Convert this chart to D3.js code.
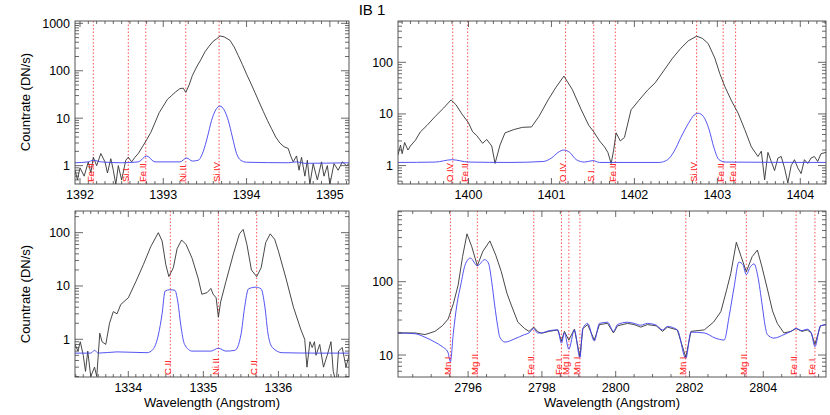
<!DOCTYPE html>
<html><head><meta charset="utf-8">
<script src="https://cdn.jsdelivr.net/npm/d3@7"></script>
<style>body{margin:0;background:#fff}text{font-family:"Liberation Sans",Arial,sans-serif}</style>
</head><body><svg id="c" width="830" height="415"></svg>
<script>
// ---- Panel 1: Si IV 1394 ----
const p1Black=[[1391.94,0.8],[1391.97,0.5],[1392.0,0.9],[1392.05,0.6],[1392.1,1.2],[1392.13,0.7],[1392.16,1.5],[1392.2,1.0],[1392.25,1.8],[1392.3,1.2],[1392.33,0.7],[1392.37,1.4],[1392.4,0.8],[1392.43,0.4],[1392.46,1.0],[1392.5,0.5],[1392.55,1.3],[1392.58,1.5],[1392.62,1.2],[1392.66,1.5],[1392.7,1.8],[1392.75,2.5],[1392.8,3.5],[1392.85,5],[1392.9,8],[1392.95,13],[1393.0,18],[1393.05,25],[1393.1,30],[1393.15,36],[1393.2,42],[1393.24,43],[1393.27,35],[1393.31,50],[1393.35,80],[1393.4,120],[1393.45,170],[1393.5,250],[1393.55,330],[1393.6,420],[1393.64,470],[1393.68,540],[1393.73,520],[1393.8,440],[1393.85,320],[1393.9,210],[1393.95,135],[1394.0,85],[1394.05,55],[1394.1,35],[1394.15,22],[1394.2,14],[1394.25,9],[1394.3,6],[1394.35,4],[1394.4,3],[1394.45,2.5],[1394.5,2.3],[1394.53,1.6],[1394.56,1.2],[1394.6,1.6],[1394.63,0.8],[1394.66,1.5],[1394.7,0.6],[1394.73,1.3],[1394.76,0.4],[1394.8,1.1],[1394.85,0.5],[1394.9,1.2],[1394.93,0.6],[1394.97,1.0],[1395.0,0.4],[1395.05,1.1],[1395.1,0.8],[1395.15,1.2],[1395.2,1.0],[1395.23,1.1]];
const p1Blue=[[1391.94,1.15],[1392.1,1.2],[1392.16,1.3],[1392.25,1.2],[1392.5,1.15],[1392.7,1.2],[1392.8,1.6],[1392.9,1.2],[1393.2,1.2],[1393.28,1.45],[1393.35,1.25],[1393.42,1.3],[1393.48,2],[1393.53,4],[1393.58,9],[1393.63,15],[1393.68,18],[1393.73,15],[1393.78,9],[1393.83,4],[1393.88,1.8],[1393.93,1.3],[1394.0,1.18],[1394.5,1.15],[1394.6,1.2],[1394.7,1.12],[1395.23,1.15]];
const p1Lines=[[1392.16,"Fe II"],[1392.58,"Si I"],[1392.79,"Fe II"],[1393.27,"Ni II"],[1393.67,"Si IV"]];
// ---- Panel 2: O IV / Si IV 1403 ----
const p2Black=[[1399.15,1.6],[1399.18,2.5],[1399.2,1.7],[1399.23,2.8],[1399.27,2.0],[1399.3,2.4],[1399.36,3.1],[1399.42,4.5],[1399.5,6],[1399.6,9],[1399.7,13],[1399.79,18.7],[1399.85,15],[1399.92,10],[1400.0,6.7],[1400.05,4.5],[1400.1,3.8],[1400.17,2.7],[1400.22,3.2],[1400.28,2.4],[1400.32,1.1],[1400.38,2.5],[1400.44,4.3],[1400.55,5],[1400.65,5.5],[1400.76,5.6],[1400.85,9],[1400.96,18.7],[1401.05,32],[1401.15,54],[1401.25,30],[1401.36,12],[1401.45,6],[1401.51,4.5],[1401.58,3],[1401.64,2.3],[1401.68,1.8],[1401.72,1.1],[1401.75,2.0],[1401.78,4.3],[1401.83,3],[1401.88,3.5],[1401.96,12],[1402.05,18],[1402.16,29],[1402.25,40],[1402.36,71],[1402.46,120],[1402.56,187],[1402.65,260],[1402.75,320],[1402.82,290],[1402.89,230],[1402.97,120],[1403.03,60],[1403.09,34],[1403.17,18],[1403.25,10.4],[1403.33,5],[1403.41,2.3],[1403.49,1.5],[1403.53,1.9],[1403.57,0.53],[1403.61,1.8],[1403.65,1.2],[1403.69,0.8],[1403.73,1.4],[1403.77,1.5],[1403.81,0.9],[1403.85,0.46],[1403.89,1.0],[1403.93,1.3],[1403.97,0.9],[1404.01,0.7],[1404.05,1.3],[1404.09,1.1],[1404.13,1.4],[1404.17,1.5],[1404.21,1.2],[1404.25,1.7],[1404.31,1.8]];
const p2Blue=[[1399.15,1.15],[1399.6,1.17],[1399.8,1.3],[1400.0,1.17],[1400.5,1.15],[1400.9,1.2],[1401.0,1.4],[1401.08,1.8],[1401.15,2.0],[1401.22,1.8],[1401.3,1.3],[1401.4,1.17],[1401.5,1.25],[1401.58,1.15],[1402.3,1.15],[1402.4,1.3],[1402.48,1.9],[1402.56,3.5],[1402.65,6.5],[1402.72,9.5],[1402.77,10.3],[1402.83,9],[1402.9,5],[1402.96,2.2],[1403.02,1.3],[1403.1,1.17],[1404.31,1.15]];
const p2Lines=[[1399.81,"O IV"],[1399.99,"Fe II"],[1401.17,"O IV"],[1401.51,"S I"],[1401.77,"Fe II"],[1402.75,"Si IV"],[1403.07,"Fe II"],[1403.22,"Fe II"]];
// ---- Panel 3: C II ----
const p3Black=[[1333.29,0.8],[1333.33,0.6],[1333.36,0.9],[1333.4,0.5],[1333.43,0.25],[1333.46,0.6],[1333.5,0.2],[1333.55,0.3],[1333.58,0.2],[1333.62,1.3],[1333.65,0.9],[1333.7,0.8],[1333.75,2.0],[1333.8,3.3],[1333.85,3.0],[1333.9,4.5],[1334.0,6],[1334.1,12],[1334.2,25],[1334.3,55],[1334.4,100],[1334.45,70],[1334.5,25],[1334.54,15],[1334.6,22],[1334.65,50],[1334.71,73],[1334.77,60],[1334.85,33],[1334.93,14],[1334.98,7],[1335.05,7.5],[1335.1,9],[1335.13,7],[1335.17,6],[1335.2,2.6],[1335.23,5],[1335.3,12],[1335.4,40],[1335.48,95],[1335.53,115],[1335.58,60],[1335.64,20],[1335.71,15],[1335.77,22],[1335.83,65],[1335.89,95],[1335.95,75],[1336.0,45],[1336.1,14],[1336.2,4],[1336.3,1.5],[1336.35,1.0],[1336.38,0.3],[1336.42,0.9],[1336.45,0.7],[1336.48,0.9],[1336.5,0.5],[1336.55,0.8],[1336.6,0.3],[1336.65,0.5],[1336.7,0.9],[1336.73,0.25],[1336.77,0.15],[1336.8,0.6],[1336.85,0.7],[1336.9,0.3],[1336.94,0.5]];
const p3Blue=[[1333.29,0.55],[1333.5,0.55],[1333.55,0.62],[1333.6,0.55],[1333.85,0.58],[1334.25,0.56],[1334.33,0.65],[1334.4,1.2],[1334.45,3],[1334.49,8],[1334.55,8.5],[1334.62,8.3],[1334.66,5],[1334.7,1.8],[1334.75,0.8],[1334.85,0.6],[1335.1,0.6],[1335.2,0.68],[1335.3,0.6],[1335.42,0.62],[1335.5,1.2],[1335.55,4],[1335.6,8.8],[1335.7,9.5],[1335.77,8.8],[1335.82,4],[1335.86,1.3],[1335.92,0.7],[1336.05,0.56],[1336.5,0.55],[1336.94,0.55]];
const p3Lines=[[1334.56,"C II"],[1335.2,"Ni II"],[1335.71,"C II"]];
// ---- Panel 4: Mg II h&k ----
const p4Black=[[2794.1,20],[2794.56,20],[2794.83,19],[2795.1,21],[2795.3,25],[2795.46,31],[2795.6,50],[2795.73,90],[2795.85,220],[2795.97,450],[2796.1,300],[2796.25,165],[2796.4,260],[2796.59,360],[2796.75,230],[2796.9,137],[2797.05,70],[2797.17,48],[2797.35,28],[2797.53,23],[2797.65,21],[2797.78,24],[2797.88,21],[2797.98,19.8],[2798.2,21],[2798.43,22],[2798.53,15.5],[2798.61,21],[2798.73,16],[2798.88,22.5],[2799.03,9.5],[2799.11,23],[2799.24,26],[2799.42,16],[2799.56,26],[2799.78,27],[2799.94,20],[2800.05,25],[2800.32,27],[2800.5,26],[2800.68,24],[2800.86,26],[2801.1,25],[2801.27,21],[2801.4,24],[2801.67,22],[2801.9,9.3],[2802.04,21],[2802.4,22],[2802.65,28],[2802.85,39],[2803.0,75],[2803.12,130],[2803.27,345],[2803.4,220],[2803.54,137],[2803.7,220],[2803.84,270],[2803.95,170],[2804.11,80],[2804.25,40],[2804.38,27],[2804.56,20],[2804.75,21],[2804.89,23],[2805.05,21],[2805.19,22],[2805.3,20],[2805.4,14],[2805.55,25],[2805.7,26]];
const p4Blue=[[2794.1,20],[2794.56,19.5],[2794.83,17.5],[2795.1,15],[2795.3,13],[2795.45,11],[2795.52,8.1],[2795.6,20],[2795.7,50],[2795.8,90],[2795.92,170],[2796.06,210],[2796.25,165],[2796.45,200],[2796.55,180],[2796.64,100],[2796.72,48],[2796.8,25],[2796.86,17.5],[2797.0,15],[2797.25,16.5],[2797.53,19],[2797.65,20],[2797.78,23],[2797.88,20],[2797.98,20],[2798.2,21.5],[2798.43,22],[2798.53,14.5],[2798.61,20],[2798.73,12],[2798.88,22],[2799.03,9.2],[2799.11,23],[2799.24,27],[2799.42,15.5],[2799.56,27],[2799.78,28],[2799.94,21],[2800.05,26],[2800.32,28],[2800.5,27],[2800.68,25.5],[2800.86,27],[2801.1,25.5],[2801.27,22],[2801.4,24.5],[2801.67,22],[2801.9,9],[2802.04,20.5],[2802.4,20],[2802.7,17],[2802.94,16],[2803.08,35],[2803.21,85],[2803.34,185],[2803.45,170],[2803.54,125],[2803.65,160],[2803.75,175],[2803.85,120],[2803.97,48],[2804.05,25],[2804.11,19],[2804.29,17],[2804.56,19],[2804.75,21],[2804.89,23],[2805.05,21.5],[2805.19,22.5],[2805.3,20],[2805.4,13],[2805.55,25],[2805.7,26]];
const p4Lines=[[2795.52,"Mn I"],[2796.25,"Mg II"],[2797.78,"Fe II"],[2798.53,"Fe I"],[2798.73,"Mg II"],[2799.03,"Mn I"],[2801.9,"Mn I"],[2803.54,"Mg II"],[2804.89,"Fe II"],[2805.4,"Fe I"]];
// tick labels
const p1XTicks=[1392,1393,1394,1395], p2XTicks=[1400,1401,1402,1403,1404], p3XTicks=[1334,1335,1336], p4XTicks=[2796,2798,2800,2802,2804];
const p1YTicks=[1,10,100,1000], p2YTicks=[1,10,100], p3YTicks=[1,10,100], p4YTicks=[10,100];

const svg=d3.select("#c");
svg.append("text").attr("x",372).attr("y",15).attr("text-anchor","middle").attr("font-size",15).text("IB 1");

function panel(o){
  const xs=d3.scaleLinear().domain(o.xd).range([o.l,o.r]);
  const ys=d3.scaleLog().domain(o.yd).range([o.b,o.t]);
  const g=svg.append("g");
  const id="clip"+o.id;
  g.append("clipPath").attr("id",id).append("rect").attr("x",o.l).attr("y",o.t).attr("width",o.r-o.l).attr("height",o.b-o.t);
  o.lines.forEach(([w,n])=>{
    g.append("line").attr("x1",xs(w)).attr("x2",xs(w)).attr("y1",o.t).attr("y2",o.b)
     .attr("stroke","#ff4040").attr("stroke-width",0.9).attr("stroke-dasharray","1.5,2");
  });
  const lineB=d3.line().x(d=>xs(d[0])).y(d=>ys(d[1]));
  const lineS=d3.line().x(d=>xs(d[0])).y(d=>ys(d[1])).curve(d3.curveMonotoneX);
  g.append("path").datum(o.black).attr("d",lineB).attr("fill","none").attr("stroke","#333").attr("stroke-width",0.9).attr("clip-path",`url(#${id})`);
  g.append("path").datum(o.blue).attr("d",lineS).attr("fill","none").attr("stroke","#3f3ff0").attr("stroke-width",0.9).attr("clip-path",`url(#${id})`);
  o.lines.forEach(([w,n])=>{
    g.append("text").attr("transform",`translate(${xs(w)+0.5},${o.b-2}) rotate(-90)`)
     .attr("font-size",9.5).attr("fill","#ff2020").text(n);
  });
  g.append("rect").attr("x",o.l).attr("y",o.t).attr("width",o.r-o.l).attr("height",o.b-o.t).attr("fill","none").attr("stroke","#444").attr("stroke-width",0.9);
  const tk=(x1,y1,x2,y2)=>g.append("line").attr("x1",x1).attr("y1",y1).attr("x2",x2).attr("y2",y2).attr("stroke","#444").attr("stroke-width",0.8);
  const [x0,x1]=o.xd;
  for(let v=Math.ceil(x0/o.minor)*o.minor; v<=x1+1e-9; v+=o.minor){
    const X=xs(v); const major=o.xticks.some(t=>Math.abs(t-v)<1e-6);
    const L=major?6:3;
    tk(X,o.b,X,o.b-L); tk(X,o.t,X,o.t+L);
  }
  o.xticks.forEach(v=>g.append("text").attr("x",xs(v)).attr("y",o.b+15).attr("text-anchor","middle").attr("font-size",12.5).text(v));
  const [y0,y1]=o.yd;
  for(let e=Math.floor(Math.log10(y0)); e<=Math.ceil(Math.log10(y1)); e++){
    for(let m=1;m<10;m++){
      const v=m*Math.pow(10,e); if(v<y0||v>y1) continue;
      const Y=ys(v); const L=m===1?8:4;
      tk(o.l,Y,o.l+L,Y); tk(o.r,Y,o.r-L,Y);
    }
  }
  o.yticks.forEach(v=>g.append("text").attr("x",o.l-5).attr("y",ys(v)+4.5).attr("text-anchor","end").attr("font-size",12.5).text(v));
}
panel({id:1,l:75,r:349,t:21,b:184,xd:[1391.94,1395.23],yd:[0.41,1120],black:p1Black,blue:p1Blue,lines:p1Lines,xticks:p1XTicks,yticks:p1YTicks,minor:0.1});
panel({id:2,l:398,r:826,t:21,b:184,xd:[1399.15,1404.31],yd:[0.44,630],black:p2Black,blue:p2Blue,lines:p2Lines,xticks:p2XTicks,yticks:p2YTicks,minor:0.1});
panel({id:3,l:75,r:349,t:211,b:377,xd:[1333.29,1336.94],yd:[0.196,255],black:p3Black,blue:p3Blue,lines:p3Lines,xticks:p3XTicks,yticks:p3YTicks,minor:0.1});
panel({id:4,l:398,r:826,t:211,b:377,xd:[2794.1,2805.7],yd:[5.01,922],black:p4Black,blue:p4Blue,lines:p4Lines,xticks:p4XTicks,yticks:p4YTicks,minor:0.5});
[[102],[294]].forEach(([cy])=>svg.append("text").attr("transform",`translate(30,${cy}) rotate(-90)`).attr("text-anchor","middle").attr("font-size",13).text("Countrate (DN/s)"));
[[212],[612]].forEach(([cx])=>svg.append("text").attr("x",cx).attr("y",407).attr("text-anchor","middle").attr("font-size",13).text("Wavelength (Angstrom)"));
</script></body></html>
